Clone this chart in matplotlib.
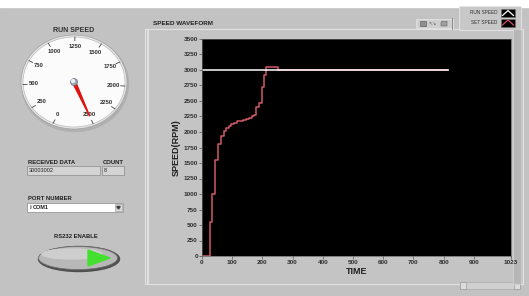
import numpy as np
import matplotlib.pyplot as plt
from matplotlib.patches import Ellipse, Rectangle, Polygon

plt.rcParams['font.family'] = ['Liberation Sans', 'DejaVu Sans']

# waveform data (TIME samples, RPM)
set_t = [0, 28, 34, 44, 54, 63, 72, 80, 88, 96, 105, 115, 125, 135, 145, 155,
         165, 172, 180, 190, 197, 204, 211, 253, 815]
set_rpm = [0, 550, 1000, 1550, 1800, 1930, 2010, 2060, 2100, 2130, 2150, 2170,
           2180, 2200, 2210, 2230, 2250, 2270, 2400, 2470, 2720, 2920, 3050,
           3000, 3000]
run_t = [0, 815]
run_rpm = [3000, 3000]

y_ticks = list(range(0, 3501, 250))
x_ticks = [0, 100, 200, 300, 400, 500, 600, 700, 800, 900, 1023]

# gauge
gauge_labels = [0, 250, 500, 750, 1000, 1250, 1500, 1750, 2000, 2250, 2500]
gauge_value = 2500
received_data = "30003002"
count = "8"
port = "COM1"

W, H = 529, 296
fig = plt.figure(figsize=(W / 100, H / 100), dpi=100)
fig.patch.set_facecolor('#c2c2c2')

bg = fig.add_axes([0, 0, 1, 1])
bg.set_xlim(0, W)
bg.set_ylim(H, 0)
bg.axis('off')

# white strip on top
bg.add_patch(Rectangle((0, 0), W, 7, color='white', zorder=1))

lab = dict(fontsize=4.2, fontweight='bold', color='#202020')

# ---- gauge ----
cx, cy, rx, ry = 74, 82, 51, 45
bg.text(cx, 30, "RUN SPEED", ha='center', va='center', fontsize=5, fontweight='bold', color='#303030')
bg.add_patch(Ellipse((cx + 1, cy + 2), 2 * rx + 5, 2 * ry + 5, color='#b0b0b0', zorder=2))
bg.add_patch(Ellipse((cx, cy), 2 * rx + 4, 2 * ry + 4, color='#e6e6e6', ec='#a0a0a0', lw=0.5, zorder=3))
bg.add_patch(Ellipse((cx, cy), 2 * rx, 2 * ry, color='#fbfbfb', ec='#b8b8b8', lw=0.5, zorder=4))

def ang(v):
    return np.radians(246 - v / 2500 * 314)

for v in gauge_labels:
    a = ang(v)
    bg.plot([cx + 0.92 * rx * np.cos(a), cx + 1.0 * rx * np.cos(a)],
            [cy - 0.92 * ry * np.sin(a), cy - 1.0 * ry * np.sin(a)],
            color='#404040', lw=0.6, zorder=5)
    bg.text(cx + 0.78 * rx * np.cos(a), cy - 0.78 * ry * np.sin(a), str(v),
            ha='center', va='center', fontsize=4.2, fontweight='bold', color='#303030', zorder=5)

a = ang(gauge_value)
tip = (cx + 0.82 * rx * np.cos(a), cy - 0.82 * ry * np.sin(a))
perp = a + np.pi / 2
bg.add_patch(Polygon([(cx + 1.6 * np.cos(perp), cy - 1.6 * np.sin(perp)),
                      (cx - 1.6 * np.cos(perp), cy + 1.6 * np.sin(perp)),
                      tip], color='#e01010', zorder=6))
bg.add_patch(Ellipse((cx, cy), 7, 7, color='#9aa4ae', ec='#6a7078', lw=0.5, zorder=7))
bg.add_patch(Ellipse((cx - 1, cy - 1), 3, 3, color='#e8eef4', zorder=8))

# ---- received data / count ----
bg.text(28, 162.5, "RECEIVED DATA", ha='left', va='center', **lab)
bg.text(103, 162.5, "COUNT", ha='left', va='center', **lab)
bg.add_patch(Rectangle((27, 166), 73, 9, fc='#d4d4d4', ec='#8a8a8a', lw=0.5))
bg.add_patch(Rectangle((102, 166), 22, 9, fc='#d4d4d4', ec='#8a8a8a', lw=0.5))
bg.text(29, 170.5, received_data, ha='left', va='center', fontsize=4, color='#202020')
bg.text(104, 170.5, count, ha='left', va='center', fontsize=4, color='#202020')

# ---- port number ----
bg.text(28, 198.5, "PORT NUMBER", ha='left', va='center', **lab)
bg.add_patch(Rectangle((27, 203), 96, 9, fc='white', ec='#8a8a8a', lw=0.5))
bg.text(29, 207.5, "I\u0338", ha='left', va='center', fontsize=4, color='#404040')
bg.text(33, 207.5, port, ha='left', va='center', fontsize=4, fontweight='bold', color='#202020')
bg.add_patch(Rectangle((115, 204), 7, 7, fc='#d8d8d8', ec='#909090', lw=0.4))
bg.add_patch(Polygon([(116.8, 206.5), (120.2, 206.5), (118.5, 209)], color='#404040'))

# ---- RS232 enable button ----
bg.text(76, 236, "RS232 ENABLE", ha='center', va='center', **lab)
bg.add_patch(Ellipse((79, 259), 81, 25, color='#505050', zorder=2))
bg.add_patch(Ellipse((78, 258), 79, 23, color='#b8b8b8', ec='#707070', lw=0.5, zorder=3))
bg.add_patch(Ellipse((72, 254), 60, 10, color='#cecece', zorder=4))
bg.add_patch(Polygon([(88, 250), (88, 266), (110, 258)], color='#44e030', zorder=5))

# ---- graph panel ----
bg.add_patch(Rectangle((145, 29), 378, 255, fc='#c4c4c4', ec='#e2e2e2', lw=0.8, zorder=1))
bg.plot([148, 148], [30, 283], color='#e0e0e0', lw=1.5, zorder=2)
bg.add_patch(Rectangle((513, 29), 8, 255, fc='#b6b6b6', ec='#d8d8d8', lw=0.5, zorder=2))
bg.text(153, 23.5, "SPEED WAVEFORM", ha='left', va='center', fontsize=4.6, fontweight='bold', color='#202020')

# tool palette
bg.add_patch(Rectangle((416, 19), 37, 9, fc='#cfcfcf', ec='#e8e8e8', lw=0.5))
bg.add_patch(Rectangle((420, 21), 6, 5, fc='#909090', ec='#505050', lw=0.4))
bg.text(432, 23.5, "\u2196\u2198", ha='center', va='center', fontsize=3.5, color='#606060')
bg.add_patch(Polygon([(441, 26), (441, 22), (443, 21), (445, 22), (447, 21), (447, 26)],
                     fc='#a0a0a0', ec='#606060', lw=0.4))
bg.plot([452, 452], [18, 29], color='#808080', lw=0.6)

# plot legend
bg.add_patch(Rectangle((459, 6), 62, 24, fc='#c8c8c8', ec='#e6e6e6', lw=0.6))
bg.text(497, 13, "RUN SPEED", ha='right', va='center', fontsize=3.4, color='#303030')
bg.text(497, 22.5, "SET SPEED", ha='right', va='center', fontsize=3.4, color='#303030')
for yy, c in [(13, 'white'), (22.5, '#d05060')]:
    bg.add_patch(Rectangle((501, yy - 4), 14, 8, fc='black', ec='#707070', lw=0.4))
    bg.plot([502.5, 508, 513.5], [yy + 2.5, yy - 2.5, yy + 2.5], color=c, lw=0.9)

# scrollbar
bg.add_patch(Rectangle((460, 282), 60, 7, fc='#d0d0d0', ec='#a0a0a0', lw=0.4))
bg.add_patch(Rectangle((460, 282), 6, 7, fc='#dcdcdc', ec='#909090', lw=0.4))
bg.add_patch(Rectangle((514, 282), 6, 7, fc='#dcdcdc', ec='#909090', lw=0.4))

# ---- chart ----
x0, x1, y0, y1 = 202, 511, 39, 256
ax = fig.add_axes([x0 / W, (H - y1) / H, (x1 - x0) / W, (y1 - y0) / H])
ax.set_facecolor('black')
ax.step(set_t, set_rpm, where='post', color='#d25a68', lw=1.1, label='SET SPEED')
ax.plot(run_t, run_rpm, color='white', lw=1.1, label='RUN SPEED')
ax.set_xlim(0, 1023)
ax.set_ylim(0, 3500)
ax.set_xticks(x_ticks)
ax.set_yticks(y_ticks)
ax.tick_params(axis='both', labelsize=4.6, length=2, width=0.5, color='#505050',
               labelcolor='#303030', pad=1)
for t in ax.get_xticklabels() + ax.get_yticklabels():
    t.set_fontweight('bold')
for s in ax.spines.values():
    s.set_color('#606060')
    s.set_linewidth(0.5)
ax.set_xlabel("TIME", fontsize=6.5, fontweight='bold', color='#202020', labelpad=1)
ax.set_ylabel("SPEED(RPM)", fontsize=6.5, fontweight='bold', color='#202020', labelpad=2)

fig.savefig('out.png', dpi=100, facecolor=fig.get_facecolor())
